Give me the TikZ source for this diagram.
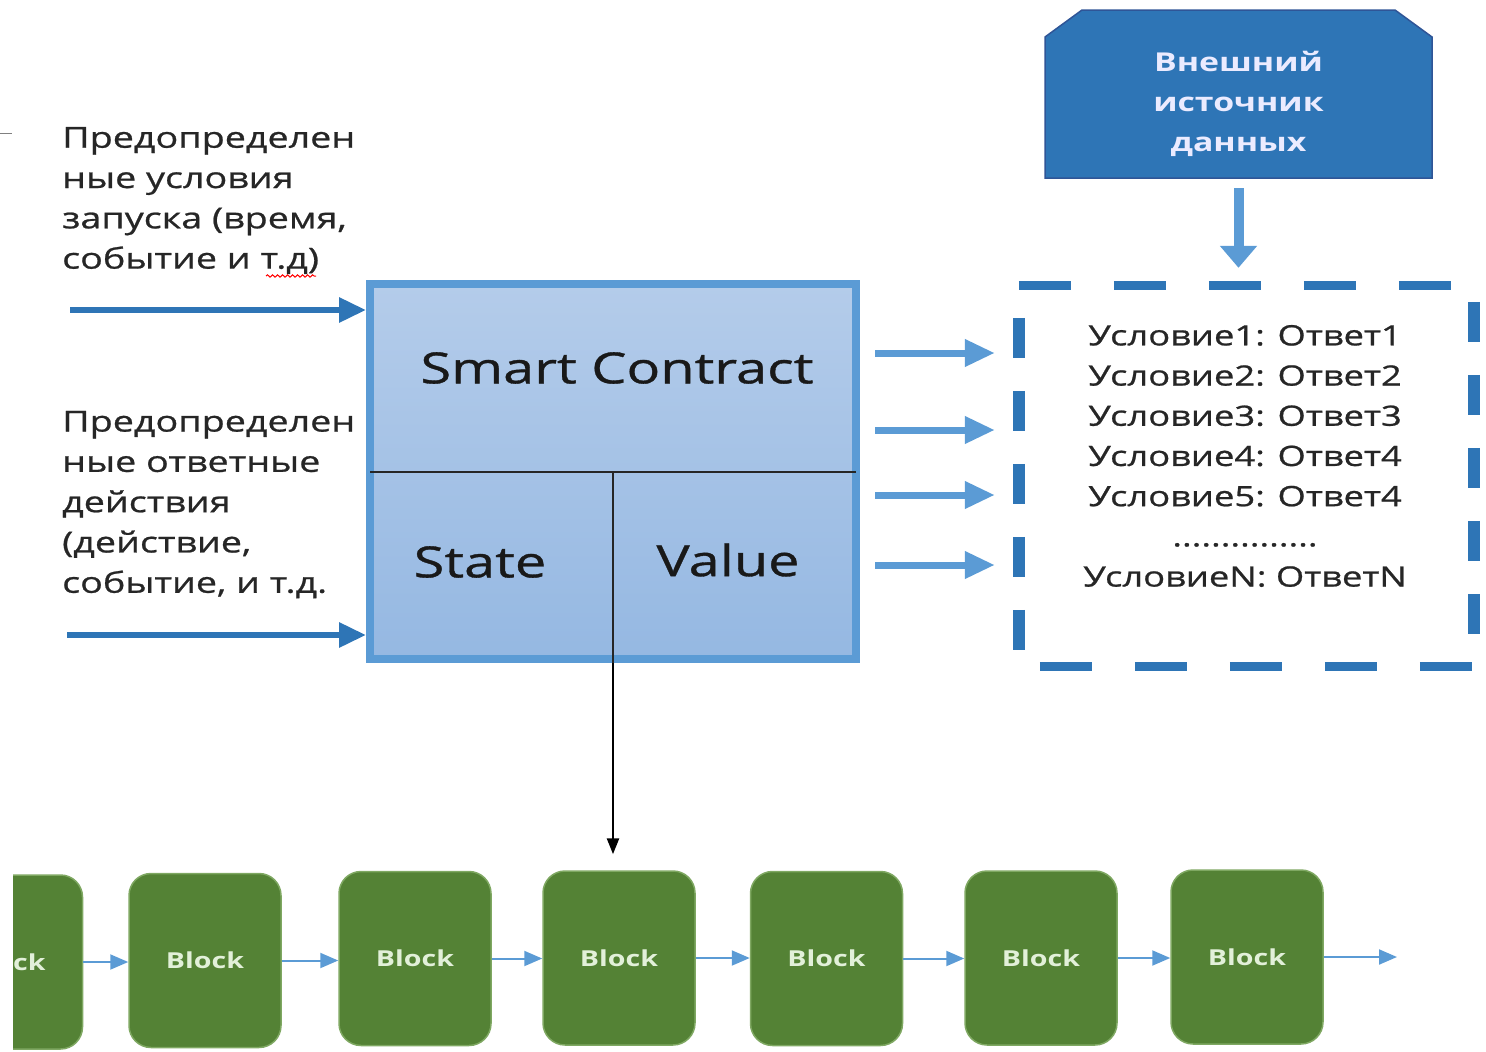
\documentclass[tikz,border=0pt]{standalone}
\usepackage{fontspec}
\setmainfont[FakeStretch=1.3]{Open Sans}
\newfontfamily\medfont[FakeStretch=1.3,FakeBold=0.8]{Open Sans}
\usetikzlibrary{arrows.meta,decorations.pathmorphing,shadings}
\definecolor{darkblue}{HTML}{2E75B6}
\definecolor{lightblue}{HTML}{5B9BD5}
\definecolor{extborder}{HTML}{2F5597}
\definecolor{scborder}{HTML}{5B9BD5}
\definecolor{sctop}{HTML}{B4CCEA}
\definecolor{scbot}{HTML}{95B8E2}
\definecolor{blockgreen}{HTML}{548235}
\definecolor{blockedge}{HTML}{7FA862}
\definecolor{blocktext}{HTML}{E2F0D9}
\definecolor{txt}{HTML}{262626}
\begin{document}
\begin{tikzpicture}[x=1pt,y=-1pt,
  darkarrow/.style={draw=darkblue, line width=6pt, -{Triangle[length=27pt,width=24pt]}},
  outarrow/.style={draw=lightblue, line width=7pt, -{Triangle[length=30pt,width=26pt]}},
  downarrow/.style={draw=lightblue, line width=10pt, -{Triangle[length=22pt,width=36pt]}},
  chainarrow/.style={draw=lightblue, line width=2pt, -{Triangle[length=18pt,width=15pt]}},
  hdash/.style={draw=darkblue, line width=9pt, dash pattern=on 52pt off 43pt},
  vdash/.style={draw=darkblue, line width=12pt, dash pattern=on 40pt off 33pt},
  blockbox/.style={draw=blockedge, line width=1.5pt, fill=blockgreen, rounded corners=22pt,
    minimum width=152pt, minimum height=174pt, inner sep=0pt, text=blocktext,
    font=\fontsize{22pt}{26pt}\selectfont\bfseries},
  lefttext/.style={align=left, inner sep=0pt, text=txt, font=\medfont\fontsize{29pt}{40.3pt}\selectfont},
  bigtext/.style={inner sep=0pt, text=black!90, font=\medfont\fontsize{43pt}{50pt}\selectfont},
]
\useasboundingbox (0,0) rectangle (1486,1052);

% small mark at top left
\draw[gray, line width=1pt] (0,133) -- (12,133);

% Smart contract box
\node[draw=scborder, line width=8pt, top color=sctop, bottom color=scbot,
      minimum width=486pt, minimum height=375pt, inner sep=0pt] (sc) at (613,471.5) {};
\draw[line width=2pt, black!85] ([xshift=4pt]sc.west) -- ([xshift=-4pt]sc.east);
\node[bigtext] (sctitle) at (617,368) {Smart Contract};
\node[bigtext] (state) at (480,562) {State};
\node[bigtext] (value) at (728,560) {Value};

% left texts
\node[lefttext, anchor=west] (cond) at (62,200.5) {Предопределен\\ные условия\\запуска (время,\\событие и т.д)};
\node[lefttext, anchor=west] (resp) at (62,504.5) {Предопределен\\ные ответные\\действия\\(действие,\\событие, и т.д.};
\draw[red, line width=1pt, decorate, decoration={snake, amplitude=1.2pt, segment length=5pt}] (266,276) -- (316,276);

% left arrows
\coordinate (la1) at (70,310);
\coordinate (la2) at (67,635);
\draw[darkarrow] (la1) -- (la1 -| sc.west);
\draw[darkarrow] (la2) -- (la2 -| sc.west);

% external source
\coordinate (extnw) at (1045,10);
\coordinate (extse) at (1432,178);
\draw[fill=darkblue, draw=extborder, line width=1.5pt]
  ([yshift=-27pt]extnw) -- ([xshift=37pt]extnw) -- ([xshift=-37pt]extnw -| extse)
  -- ([yshift=-27pt]extnw -| extse) -- (extse) -- (extse -| extnw) -- cycle;
\node[minimum width=387pt, minimum height=150pt, inner sep=0pt, align=center,
      text=white!92!blue, font=\fontsize{26pt}{40pt}\selectfont\bfseries] (ext) at (1238.5,104) {Внешний\\источник\\данных};

% dashed box
\node[minimum width=455pt, minimum height=380pt, inner sep=0pt] (db) at (1246.5,476) {};
\draw[hdash] (db.north west) -- ([xshift=-22pt]db.north east);
\draw[hdash] ([xshift=21pt]db.south west) -- (db.south east);
\draw[vdash] ([yshift=-32pt]db.north west) -- ([yshift=14pt]db.south west);
\draw[vdash] ([yshift=-16pt]db.north east) -- ([yshift=32pt]db.south east);
\node[align=center, inner sep=0pt, text=txt, font=\medfont\fontsize{28pt}{40.2pt}\selectfont] (dbtext) at (1245,456)
  {Условие1: Ответ1\\Условие2: Ответ2\\Условие3: Ответ3\\Условие4: Ответ4\\Условие5: Ответ4\\...............\\УсловиеN: ОтветN};

% external to dashed box
\draw[downarrow] (1238.5,188) -- ([yshift=18pt]ext.south |- db.north);

% right arrows
\coordinate (ra1) at (875,353);
\coordinate (ra2) at (875,430);
\coordinate (ra3) at (875,495);
\coordinate (ra4) at (875,565);
\foreach \r in {ra1,ra2,ra3,ra4}{
  \draw[outarrow] (\r) -- ([xshift=-24pt]\r -| db.west);
}

% blocks
\begin{scope}
\clip (13,0) rectangle (1486,1052);
\node[blockbox] (b0) at (6.5,962) {Block};
\end{scope}
\node[blockbox] (b1) at (205,960.5) {Block};
\node[blockbox] (b2) at (415,958.5) {Block};
\node[blockbox] (b3) at (619,958) {Block};
\node[blockbox] (b4) at (826.5,958.5) {Block};
\node[blockbox] (b5) at (1041,958) {Block};
\node[blockbox] (b6) at (1247,957) {Block};
\coordinate (chainend) at (1397,957);

\draw[chainarrow] (b0.east) -- (b0.east -| b1.west);
\draw[chainarrow] (b1.east) -- (b1.east -| b2.west);
\draw[chainarrow] (b2.east) -- (b2.east -| b3.west);
\draw[chainarrow] (b3.east) -- (b3.east -| b4.west);
\draw[chainarrow] (b4.east) -- (b4.east -| b5.west);
\draw[chainarrow] (b5.east) -- (b5.east -| b6.west);
\draw[chainarrow] (b6.east) -- (chainend);

% smart contract to chain
\draw[line width=2pt, black!85] (sc.center) -- (sc.south);
\draw[line width=2.5pt, black, -{Triangle[length=16pt,width=12pt]}] (sc.south) -- ([yshift=16pt]sc.south |- b3.north);
\end{tikzpicture}
\end{document}
